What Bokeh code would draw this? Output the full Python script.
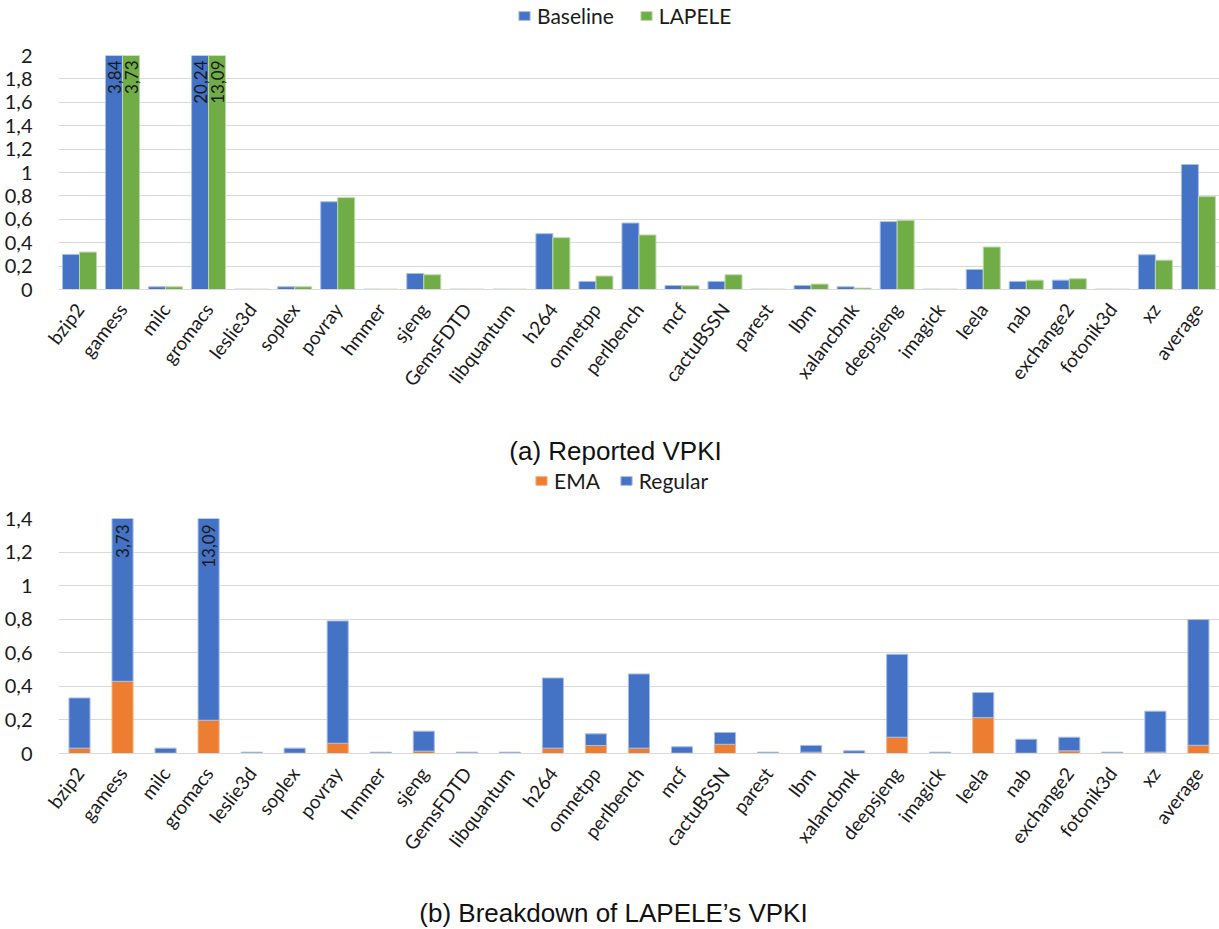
import math
from bokeh.plotting import figure
from bokeh.models import (ColumnDataSource, Range1d, FixedTicker, Legend, LegendItem,
                          Label, CustomJSTickFormatter)
from bokeh.layouts import column
from bokeh.transform import dodge
from bokeh.embed import file_html
from bokeh.resources import INLINE
from bokeh.core.properties import value

categories = ["bzip2", "gamess", "milc", "gromacs", "leslie3d", "soplex", "povray", "hmmer",
              "sjeng", "GemsFDTD", "libquantum", "h264", "omnetpp", "perlbench", "mcf",
              "cactuBSSN", "parest", "lbm", "xalancbmk", "deepsjeng", "imagick", "leela",
              "nab", "exchange2", "fotonik3d", "xz", "average"]

# (a) Reported VPKI
baseline = [0.30, 3.84, 0.023, 20.24, 0.003, 0.023, 0.75, 0.003,
            0.137, 0.003, 0.003, 0.477, 0.069, 0.568, 0.034,
            0.069, 0.003, 0.034, 0.023, 0.58, 0.003, 0.171,
            0.069, 0.080, 0.003, 0.297, 1.068]
lapele = [0.32, 3.73, 0.023, 13.09, 0.003, 0.023, 0.785, 0.003,
          0.126, 0.003, 0.003, 0.443, 0.115, 0.466, 0.032,
          0.126, 0.003, 0.046, 0.012, 0.59, 0.003, 0.363,
          0.080, 0.092, 0.003, 0.251, 0.794]

# (b) Breakdown of LAPELE's VPKI
ema = [0.032, 0.43, 0.002, 0.198, 0.001, 0.002, 0.061, 0.001,
       0.014, 0.001, 0.001, 0.032, 0.048, 0.032, 0.002,
       0.055, 0.001, 0.008, 0.001, 0.097, 0.001, 0.214,
       0.002, 0.016, 0.001, 0.008, 0.049]
regular = [0.299, 3.30, 0.030, 12.892, 0.007, 0.030, 0.729, 0.007,
           0.119, 0.007, 0.007, 0.418, 0.069, 0.442, 0.038,
           0.070, 0.007, 0.040, 0.015, 0.494, 0.007, 0.149,
           0.083, 0.081, 0.007, 0.244, 0.749]

top_yticks = [0, 0.2, 0.4, 0.6, 0.8, 1.0, 1.2, 1.4, 1.6, 1.8, 2.0]
bottom_yticks = [0, 0.2, 0.4, 0.6, 0.8, 1.0, 1.2, 1.4]

BLUE = "#4472C4"
GREEN = "#70AD47"
ORANGE = "#ED7D31"
GRID = "#d9d9d9"
FONT = "Lato"
CAP_FONT = "Liberation Sans"
TXT = "#1a1a1a"
W = 1219
LEFT = 58

xs = [i + 0.5 for i in range(len(categories))]
XR = (0.012, 26.99)

ytick_fmt = CustomJSTickFormatter(code="""
    const s = (Math.round(tick * 10) / 10).toString();
    return s.replace('.', ',');
""")
xtick_fmt = CustomJSTickFormatter(args=dict(cats=categories), code="""
    return cats[Math.floor(tick)];
""")


def style(p, yticks):
    p.outline_line_color = None
    p.xgrid.visible = False
    yt = FixedTicker(ticks=yticks)
    p.yaxis.ticker = yt
    p.ygrid.ticker = yt
    p.ygrid.grid_line_color = GRID
    p.ygrid.grid_line_width = 1
    p.yaxis.formatter = ytick_fmt
    p.yaxis.axis_line_color = None
    p.yaxis.major_tick_line_color = None
    p.yaxis.minor_tick_line_color = None
    p.yaxis.major_label_standoff = 20
    p.yaxis.major_label_text_font = FONT
    p.yaxis.major_label_text_font_size = "20px"
    p.yaxis.major_label_text_color = TXT
    p.xaxis.ticker = FixedTicker(ticks=xs)
    p.xaxis.formatter = xtick_fmt
    p.xaxis.axis_line_color = GRID
    p.xaxis.major_tick_line_color = None
    p.xaxis.minor_tick_line_color = None
    p.xaxis.major_label_orientation = 0.92
    p.xaxis.major_label_standoff = 10
    p.xaxis.major_label_text_font = FONT
    p.xaxis.major_label_text_font_size = "19px"
    p.xaxis.major_label_text_color = TXT


def strip(p):
    p.outline_line_color = None
    p.grid.visible = False
    p.background_fill_alpha = 0
    p.border_fill_alpha = 0


def fmt(v):
    return ("%.2f" % v).replace(".", ",")


def make_legend(p, labels, colors, lines, x, y, spacing):
    # legend-only swatch renderers, placed far outside the visible range
    rends = [p.vbar(x=[-10000], top=[0], width=1, fill_color=c, line_color=lc, line_width=1)
             for c, lc in zip(colors, lines)]
    leg = Legend(items=[LegendItem(label=l, renderers=[r]) for l, r in zip(labels, rends)],
                 orientation="horizontal", location=(x - LEFT, y), padding=0, margin=0,
                 spacing=spacing, glyph_width=14, glyph_height=11, label_standoff=6,
                 label_height=20,
                 label_text_font=FONT, label_text_font_size="21px", label_text_color=TXT,
                 border_line_color=None, background_fill_alpha=0)
    p.add_layout(leg)


def band(height):
    # frames of a column are aligned, so the frame spans LEFT..W; data x equals page x
    p = figure(width=W, height=height, x_range=Range1d(LEFT, W),
               y_range=Range1d(0, height),
               output_backend="svg", toolbar_location=None, min_border=0,
               x_axis_location=None, y_axis_location=None)
    strip(p)
    return p


# ---------------- legend of (a) ----------------
L1 = band(40)
make_legend(L1, ["Baseline", "LAPELE"], [BLUE, GREEN], ["#a8bde6", "#bcd9a8"], 517, 12, 25)

# ---------------- top chart ----------------
TOP_MAX = 2.0
p1 = figure(width=W, height=385, x_range=Range1d(*XR), y_range=Range1d(0, TOP_MAX),
            output_backend="svg", toolbar_location=None,
            min_border_left=LEFT, min_border_right=0, min_border_top=15, min_border_bottom=136)
style(p1, top_yticks)

src1 = ColumnDataSource(dict(x=xs, baseline=baseline, lapele=lapele))
bw = 0.395
p1.vbar(x=dodge("x", -bw / 2), top="baseline", width=bw, source=src1,
        fill_color=BLUE, line_color="#a8bde6", line_width=1)
p1.vbar(x=dodge("x", bw / 2), top="lapele", width=bw, source=src1,
        fill_color=GREEN, line_color="#bcd9a8", line_width=1)

lx, ly, lt = [], [], []
for i, (b, l) in enumerate(zip(baseline, lapele)):
    if b > TOP_MAX:
        lx.append(xs[i] - bw / 2); ly.append(TOP_MAX); lt.append(fmt(b))
    if l > TOP_MAX:
        lx.append(xs[i] + bw / 2); ly.append(TOP_MAX); lt.append(fmt(l))
p1.text(x=lx, y=ly, text=lt, angle=math.pi / 2, text_align="right", text_baseline="middle",
        y_offset=5, text_font=value(FONT), text_font_size="17px", text_color=TXT)

# ---------------- caption (a) + legend of (b) ----------------
M = band(75)
M.add_layout(Label(x=615, y=50, text="(a) Reported VPKI", text_align="center",
                   text_baseline="middle", text_font=CAP_FONT, text_font_size="26px",
                   text_color="#111111"))
make_legend(M, ["EMA", "Regular"], [ORANGE, BLUE], ["#f5b48a", "#a8bde6"], 534, 7, 19)

# ---------------- bottom chart ----------------
BOT_MAX = 1.4
p2 = figure(width=W, height=370, x_range=Range1d(*XR), y_range=Range1d(0, BOT_MAX),
            output_backend="svg", toolbar_location=None,
            min_border_left=LEFT, min_border_right=0, min_border_top=18, min_border_bottom=117)
style(p2, bottom_yticks)

src2 = ColumnDataSource(dict(x=xs, ema=ema, regular=regular))
p2.vbar_stack(["ema", "regular"], x="x", width=0.49, source=src2,
              fill_color=[ORANGE, BLUE], line_color=["#f5b48a", "#a8bde6"], line_width=1)

bx, by, bt = [], [], []
for i, (e, r) in enumerate(zip(ema, regular)):
    tot = e + r
    if tot > BOT_MAX:
        bx.append(xs[i]); by.append(BOT_MAX); bt.append(fmt(tot))
p2.text(x=bx, y=by, text=bt, angle=math.pi / 2, text_align="right", text_baseline="middle",
        y_offset=6, text_font=value(FONT), text_font_size="17px", text_color=TXT)

# ---------------- caption (b) ----------------
C = band(57)
C.add_layout(Label(x=613, y=15, text="(b) Breakdown of LAPELE\u2019s VPKI", text_align="center",
                   text_baseline="middle", text_font=CAP_FONT, text_font_size="26px",
                   text_color="#111111"))

layout = column(L1, p1, M, p2, C, spacing=0)
open("out.html", "w").write(file_html(layout, INLINE))
